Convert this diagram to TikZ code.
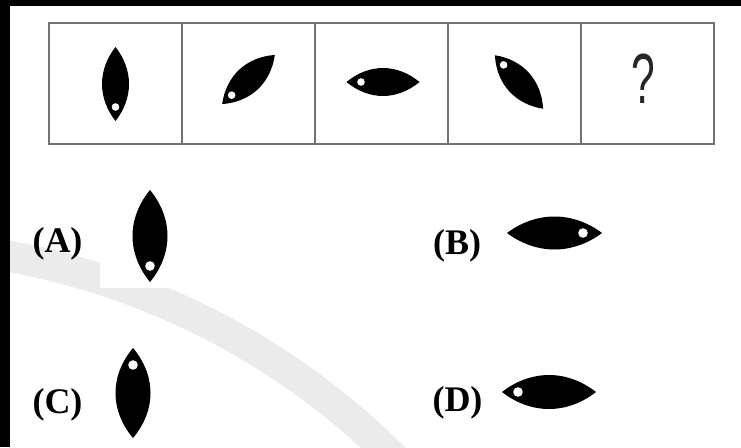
\documentclass[tikz,border=0pt]{standalone}
\usepackage{fontspec}
\setmainfont{Liberation Serif}
\newfontfamily\qmarkfont{Liberation Sans}
\usepackage{graphicx}
\usetikzlibrary{positioning}

\tikzset{
  cell/.style={rectangle, draw=black!55, line width=1.6pt, minimum width=133pt, minimum height=121pt, outer sep=0pt, inner sep=0pt},
  optlabel/.style={anchor=base, inner sep=0pt, font=\bfseries\fontsize{36}{40}\selectfont},
  leafbody/.style={fill=black},
  eye/.style={fill=white},
}

% leaf: centre, direction of the eye, length, width, eye distance, eye radius
\newcommand{\drawleaf}[6]{%
  \pgfmathsetmacro{\tipx}{#3/2}%
  \pgfmathsetmacro{\leafax}{0.7*\tipx}%
  \pgfmathsetmacro{\leafay}{0.65*#4/2}%
  \pgfmathsetmacro{\leafbx}{0.35*\tipx}%
  \pgfmathsetmacro{\leafby}{#4/2}%
  \begin{scope}[shift={#1}, rotate=#2]
    \fill[leafbody] ({-\tipx},0) .. controls ({-\leafax},{\leafay}) and ({-\leafbx},{\leafby}) .. (0,{\leafby})
      .. controls ({\leafbx},{\leafby}) and ({\leafax},{\leafay}) .. ({\tipx},0)
      .. controls ({\leafax},{-\leafay}) and ({\leafbx},{-\leafby}) .. (0,{-\leafby})
      .. controls ({-\leafbx},{-\leafby}) and ({-\leafax},{-\leafay}) .. cycle;
    \fill[eye] (#5,0) circle (#6);
  \end{scope}}

\begin{document}
\begin{tikzpicture}[x=1pt, y=-1pt]
  \useasboundingbox (0,0) rectangle (741,447);
  \clip (0,0) rectangle (741,447);
  \fill[white] (0,0) rectangle (741,447);
  % watermark arc
  \draw[black!8, line width=31pt] (-123,977) circle (732.5);
  \fill[white] (100,230) rectangle (190,288);
  % dark edges of the scan
  \fill[black] (0,0) rectangle (741,6);
  \fill[black] (0,0) rectangle (10,447);

  % question row
  \node (cell1) [cell] at (115.6,83.5) {};
  \node (cell2) [cell, right=0pt of cell1] {};
  \node (cell3) [cell, right=0pt of cell2] {};
  \node (cell4) [cell, right=0pt of cell3] {};
  \node (cell5) [cell, right=0pt of cell4] {};
  \node (qmark) [anchor=base, inner sep=0pt, text=black!85, font=\qmarkfont\fontsize{71}{71}\selectfont] at (643.5,103) {\scalebox{0.6}[1]{?}};

  \drawleaf{(115.5,84)}{270}{74}{27}{23}{3.8}
  \drawleaf{(248.5,79.5)}{223}{72}{27}{23}{3.8}
  \drawleaf{(383,82)}{180}{73}{28}{22}{3.8}
  \drawleaf{(519,82)}{132}{72}{27}{23}{3.8}

  % answer options
  \node (optA) [optlabel] at (57.5,252) {(A)};
  \drawleaf{(150,236)}{270}{92}{35}{30}{4.8}
  \node (optB) [optlabel] at (457,254) {(B)};
  \drawleaf{(554.5,233)}{0}{95}{33}{28.5}{4.8}
  \node (optC) [optlabel] at (57.5,413) {(C)};
  \drawleaf{(133,393)}{90}{90}{35}{28}{4.8}
  \node (optD) [optlabel] at (457.5,411) {(D)};
  \drawleaf{(549,392)}{180}{94}{34}{31}{4.8}
\end{tikzpicture}
\end{document}
